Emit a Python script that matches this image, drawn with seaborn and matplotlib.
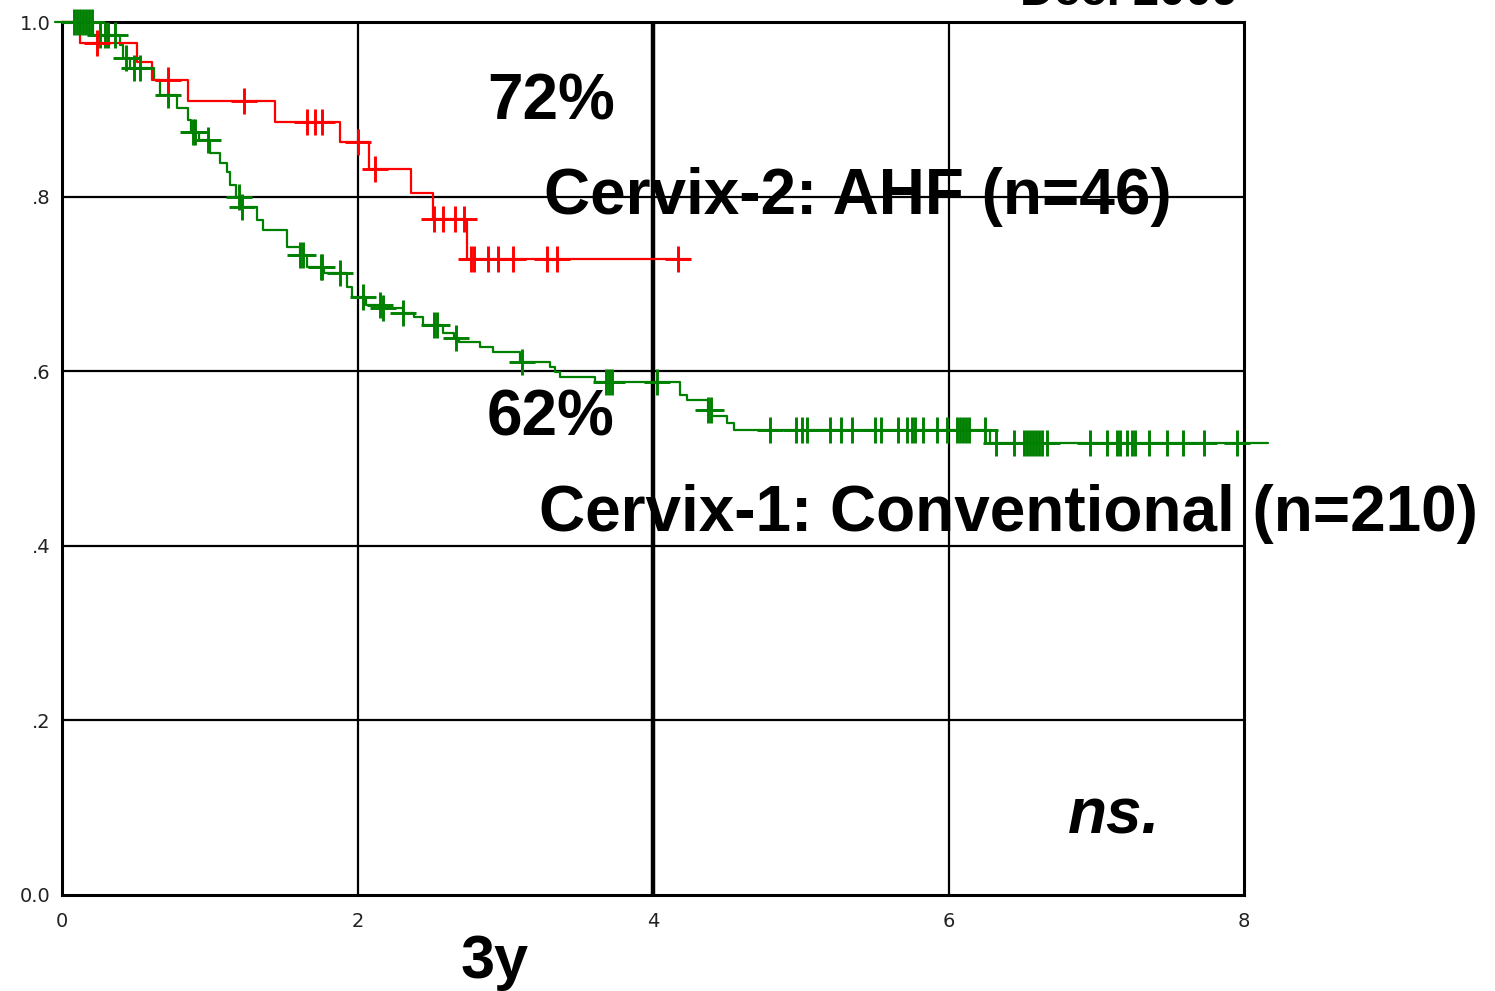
import numpy as np
import matplotlib
matplotlib.use("Agg")
import matplotlib.pyplot as plt
import seaborn as sns

# ---- data (years, survival fraction) ----
# Cervix-2: AHF (n=46) - red
ahf_event_t = [0.12, 0.51, 0.61, 0.85, 1.44, 1.88, 2.08, 2.36, 2.51, 2.74]
ahf_event_s = [0.976, 0.954, 0.934, 0.909, 0.886, 0.863, 0.832, 0.804, 0.774, 0.729]
ahf_end = 4.25
ahf_censor_t = [0.24, 0.72, 1.23, 1.66, 1.71, 1.76, 2.00, 2.12, 2.52, 2.58, 2.66,
                2.72, 2.77, 2.79, 2.88, 2.95, 3.05, 3.28, 3.35, 4.17]

# Cervix-1: Conventional (n=210) - green
conv_event_t = [0.21, 0.39, 0.41, 0.46, 0.62, 0.66, 0.78, 0.85, 0.87, 0.93,
                1.00, 1.07, 1.12, 1.14, 1.18, 1.21, 1.32, 1.36, 1.52, 1.61,
                1.66, 1.77, 1.93, 1.96, 2.06, 2.17, 2.31, 2.38, 2.44, 2.58,
                2.65, 2.69, 2.83, 2.92, 3.10, 3.30, 3.34, 3.37, 3.61, 4.18,
                4.23, 4.37, 4.40, 4.50, 4.55, 6.28]
conv_event_s = [0.985, 0.974, 0.959, 0.947, 0.934, 0.916, 0.902, 0.888, 0.874, 0.865,
                0.850, 0.839, 0.828, 0.813, 0.800, 0.788, 0.773, 0.762, 0.742, 0.733,
                0.719, 0.713, 0.697, 0.685, 0.676, 0.672, 0.667, 0.662, 0.653, 0.644,
                0.638, 0.633, 0.628, 0.622, 0.611, 0.605, 0.599, 0.593, 0.588, 0.573,
                0.567, 0.556, 0.549, 0.541, 0.533, 0.518]
conv_start = -0.05
conv_end = 8.16
conv_censor_t = [0.08, 0.10, 0.12, 0.14, 0.16, 0.18, 0.20, 0.26, 0.29, 0.31, 0.36,
                 0.43, 0.49, 0.53, 0.72, 0.89, 0.90, 0.99, 1.20, 1.22, 1.61, 1.63,
                 1.75, 1.76, 1.88, 2.04, 2.15, 2.17, 2.31, 2.52, 2.54, 2.67, 3.11,
                 3.68, 3.70, 3.72, 4.03, 4.37, 4.39,
                 4.79, 4.97, 5.01, 5.04, 5.20, 5.27, 5.35, 5.50, 5.54, 5.66, 5.72,
                 5.75, 5.77, 5.83, 5.92, 5.99, 6.06, 6.08, 6.10, 6.12, 6.14, 6.25,
                 6.32, 6.44, 6.51, 6.53, 6.55, 6.57, 6.59, 6.61, 6.63, 6.67, 6.96,
                 7.07, 7.14, 7.16, 7.21, 7.24, 7.26, 7.36, 7.48, 7.59, 7.73, 7.95]

y_ticks = [0.0, 0.2, 0.4, 0.6, 0.8, 1.0]
y_labels = ["0.0", ".2", ".4", ".6", ".8", "1.0"]
x_ticks = [0, 2, 4, 6, 8]
x_labels = ["0", "2", "4", "6", "8"]

RED = "#ff0000"
GREEN = "#008000"


def step_curve(start, events_t, events_s, end):
    t = np.array([start] + list(events_t) + [end])
    s = np.array([1.0] + list(events_s) + [events_s[-1]])
    return t, s


def level_at(t_arr, s_arr, when):
    idx = np.searchsorted(t_arr, when, side="right") - 1
    return s_arr[np.clip(idx, 0, len(s_arr) - 1)]


sns.set_style("white")
plt.rcParams["font.family"] = ["DejaVu Sans"]

W, H = 1495, 991
fig = plt.figure(figsize=(W / 100, H / 100), dpi=100)
ax = fig.add_axes([62 / W, 1 - 895 / H, (1244 - 62) / W, (895 - 22) / H])

# grid lines
for yv in [0.2, 0.4, 0.6, 0.8]:
    ax.axhline(yv, color="black", lw=1.6, zorder=1)
for xv in [2, 6]:
    ax.axvline(xv, color="black", lw=1.6, zorder=1)
ax.axvline(4, color="black", lw=3.2, zorder=1)

# curves
for start, ev_t, ev_s, end, cens, col in [
    (conv_start, conv_event_t, conv_event_s, conv_end, conv_censor_t, GREEN),
    (0.0, ahf_event_t, ahf_event_s, ahf_end, ahf_censor_t, RED),
]:
    t, s = step_curve(start, ev_t, ev_s, end)
    sns.lineplot(x=t, y=s, ax=ax, color=col, linewidth=1.6, drawstyle="steps-post",
                 estimator=None, sort=False, clip_on=False, zorder=3)
    cy = level_at(t, s, np.array(cens))
    sns.scatterplot(x=cens, y=cy, ax=ax, marker="+", s=340, color=col,
                    linewidth=2.1, clip_on=False, zorder=4, legend=False)

ax.set_xlim(0, 8)
ax.set_ylim(0, 1)
ax.set_xticks(x_ticks)
ax.set_xticklabels(x_labels, fontsize=14, color="#222222")
ax.set_yticks(y_ticks)
ax.set_yticklabels(y_labels, fontsize=14, color="#222222")
ax.set_yticks([0.1, 0.3, 0.5, 0.7, 0.9], minor=True)
ax.tick_params(axis="y", which="major", length=0, pad=8)
ax.tick_params(axis="y", which="minor", length=7, width=1.5, color="black", direction="out")
ax.tick_params(axis="x", which="major", length=9, width=2, color="black", direction="out", pad=3)
for sp in ax.spines.values():
    sp.set_color("black")
    sp.set_linewidth(2.2)
ax.set_xlabel("")
ax.set_ylabel("")

# annotations (figure pixel positions)
def ftext(px, py, txt, size, style="normal"):
    fig.text(px / W, 1 - py / H, txt, fontsize=size, fontweight="bold", fontstyle=style,
             family="Liberation Sans", color="black", ha="left", va="baseline", zorder=10)

ftext(487, 119, "72%", 46)
ftext(544, 214, "Cervix-2: AHF (n=46)", 46)
ftext(487, 436, "62%", 46)
ftext(539, 531, "Cervix-1: Conventional (n=210)", 46)
ftext(1068, 834, "ns.", 46, style="italic")
ftext(461, 978, "3y", 44)
ftext(1020, 5, "Dec. 2009", 34)

fig.savefig("out.png", dpi=100)
